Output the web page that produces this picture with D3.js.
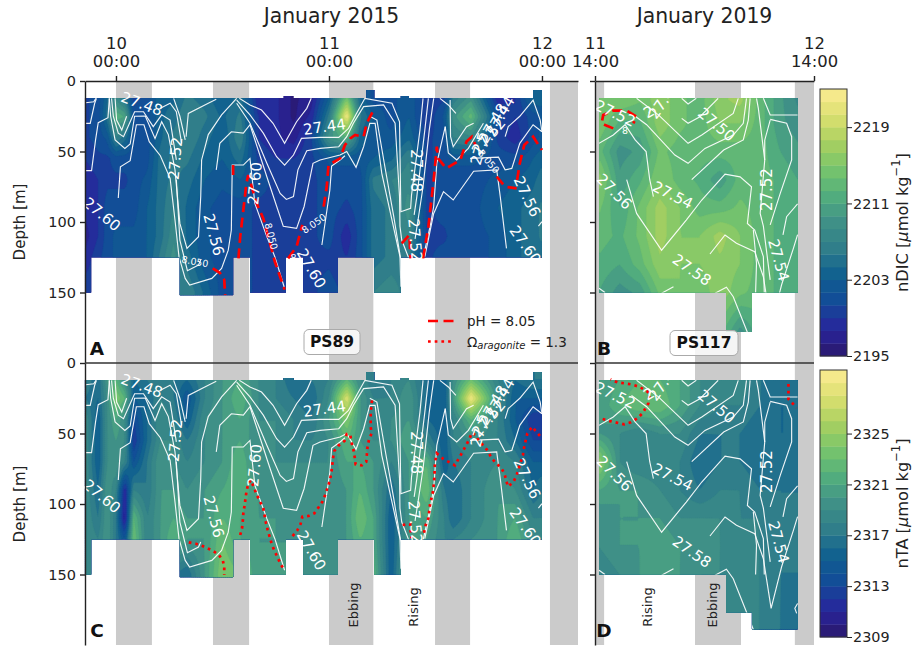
<!DOCTYPE html>
<html><head><meta charset="utf-8">
<script src="https://cdn.jsdelivr.net/npm/d3@7"></script>
<style>html,body{margin:0;padding:0;background:#fff}svg{display:block;font-family:"DejaVu Sans",sans-serif}</style>
</head><body><svg id="c" width="912" height="647"></svg>
<script>
// ---- data: hours since reference tick, depth in metres ----
const hoursLeft=[-3.5,-2,-1,0,1,2,3.5,5,6.5,8,10,12,14,16,18,20,22,24,26,27.5,29,31,33,35,37,38,40,43,45,47,48];
const depthsLeft=[12,25,40,55,70,90,110,125,150];
const nDIC2015=[
[2200,2201,2204,2208,2205,2200,2201,2204,2204,2206,2205,2203,2205,2198,2198,2196,2197,2203,2214,2204,2201,2201,2203,2199,2200,2206,2209,2198,2199,2204,2204],
[2200,2201,2205,2212,2211,2201,2201,2204,2205,2207,2206,2204,2206,2199,2198,2196,2198,2206,2222,2206,2203,2201,2203,2199,2202,2209,2213,2201,2199,2201,2202],
[2200,2201,2202,2207,2205,2201,2201,2204,2206,2207,2205,2203,2207,2199,2198,2197,2200,2209,2212,2204,2202,2202,2204,2200,2201,2207,2208,2200,2198,2201,2202],
[2199,2200,2200,2201,2201,2201,2201,2205,2206,2206,2204,2203,2205,2200,2199,2199,2200,2202,2202,2202,2203,2204,2207,2200,2201,2202,2202,2201,2201,2203,2204],
[2198,2199,2200,2200,2200,2201,2202,2205,2206,2205,2203,2202,2203,2201,2200,2200,2200,2201,2201,2201,2206,2207,2208,2200,2201,2201,2201,2202,2203,2204,2205],
[2198,2199,2201,2201,2201,2201,2203,2205,2207,2204,2202,2201,2201,2200,2200,2200,2200,2201,2200,2201,2205,2206,2209,2200,2201,2201,2201,2203,2204,2205,2206],
[2197,2199,2201,2202,2202,2202,2203,2205,2208,2204,2202,2201,2201,2200,2200,2200,2200,2201,2198,2201,2205,2206,2208,2200,2200,2201,2201,2202,2204,2205,2206],
[2198,2200,2201,2202,2202,2202,2203,2206,2209,2205,2202,2201,2201,2200,2200,2200,2200,2200,2199,2201,2205,2206,2206,2200,2201,2201,2201,2202,2204,2205,2205],
[2200,2200,2201,2202,2202,2202,2203,2204,2205,2207,2204,2201,2201,2200,2200,2200,2200,2201,2200,2202,2207,2208,2206,2201,2201,2201,2201,2202,2204,2205,2205]];
const nTA2015=[
[2318,2316,2320,2322,2319,2316,2317,2318,2317,2316,2318,2320,2321,2319,2318,2316,2317,2318,2322,2319,2317,2318,2319,2316,2315,2319,2323,2318,2316,2317,2317],
[2317,2316,2319,2324,2322,2315,2316,2318,2317,2314,2318,2320,2322,2319,2318,2317,2316,2319,2328,2320,2318,2318,2320,2316,2315,2320,2329,2319,2315,2315,2315],
[2319,2315,2319,2321,2319,2313,2316,2319,2318,2315,2319,2320,2321,2319,2319,2318,2317,2320,2324,2320,2318,2319,2320,2316,2315,2318,2322,2318,2315,2312,2312],
[2319,2315,2319,2320,2319,2312,2316,2319,2319,2317,2319,2320,2321,2319,2319,2318,2318,2319,2322,2320,2319,2319,2321,2318,2315,2318,2319,2318,2316,2313,2313],
[2319,2315,2319,2320,2318,2314,2317,2320,2319,2318,2319,2320,2322,2319,2319,2319,2319,2319,2321,2321,2320,2318,2320,2322,2315,2317,2318,2319,2318,2315,2315],
[2319,2316,2320,2318,2311,2318,2317,2320,2320,2319,2320,2321,2322,2320,2319,2319,2319,2319,2320,2322,2320,2316,2320,2323,2317,2316,2318,2320,2319,2316,2317],
[2319,2317,2320,2317,2310,2322,2318,2320,2321,2320,2320,2322,2321,2320,2320,2319,2319,2319,2320,2323,2321,2315,2320,2321,2318,2316,2318,2320,2321,2318,2318],
[2319,2318,2320,2317,2314,2323,2318,2320,2322,2320,2320,2323,2321,2320,2320,2320,2319,2319,2320,2322,2321,2315,2320,2320,2318,2318,2319,2320,2322,2319,2319],
[2319,2319,2319,2318,2317,2318,2318,2319,2317,2316,2320,2324,2323,2320,2320,2320,2319,2319,2319,2322,2322,2315,2322,2320,2319,2319,2319,2320,2321,2320,2319]];
const hoursRight=[.4,2.7,4.9,7.1,9.3,11.5,13.7,15.9,18.1,20.3,22.2];
const depthsRight=[12,30,50,70,90,110,130,150,178,190];
const nDIC2019=[
[2215,2215,2214,2216,2214,2213,2216,2217,2213,2210,2208],
[2215,2212,2212,2216,2214,2213,2215,2215,2213,2210,2209],
[2213,2209,2210,2214,2213,2213,2213,2213,2213,2211,2210],
[2216,2210,2212,2215,2213,2212,2210,2213,2213,2212,2211],
[2214,2211,2214,2217,2215,2213,2213,2214,2213,2212,2212],
[2213,2212,2214,2217,2215,2215,2217,2215,2213,2212,2212],
[2212,2211,2213,2216,2215,2215,2216,2215,2213,2212,2212],
[2211,2209,2210,2214,2215,2214,2216,2214,2213,2212,2211],
[2210,2209,2210,2213,2214,2214,2213,2209,2212,2212,2211],
[2210,2209,2210,2213,2214,2214,2213,2209,2212,2212,2211]];
const nTA2019=[
[2320,2321,2322,2322,2321,2319,2318,2319,2317,2317,2316],
[2320,2322,2323,2323,2321,2319,2318,2318,2317,2316,2316],
[2320,2319,2318,2319,2319,2317,2317,2317,2316,2316,2316],
[2325,2319,2318,2318,2318,2316,2317,2317,2316,2316,2317],
[2321,2320,2320,2319,2318,2317,2318,2318,2317,2317,2317],
[2319,2320,2320,2320,2319,2319,2319,2318,2318,2317,2317],
[2319,2320,2320,2321,2320,2320,2319,2318,2318,2317,2317],
[2318,2319,2320,2321,2320,2319,2319,2318,2318,2317,2317],
[2318,2319,2319,2320,2320,2319,2319,2318,2318,2317,2316],
[2318,2319,2319,2320,2320,2319,2319,2318,2318,2317,2316]];
// sampled extent: [start hour, end hour, top depth, bottom depth]
const extentLeft=[[-3.5,-2.8,12,150],[-2.8,7.2,12,125],[7.2,13.2,12,152],[13.2,15.1,12,125],[15.1,19.15,12,150],[18.9,20,10.6,12],[19.15,21.1,12,125],[21.1,25,12,150],[25,28.2,12,125],[28.2,29.1,6.4,125],[29.1,32.1,12,150],[32.1,33,10.6,125],[33,47,12,125],[47,48,6.4,125]];
const extentB=[[.44,22.25,12,150],[14.36,17.2,12,178]];
const extentD=[[.44,22.25,12,150],[14.36,17.2,12,177],[17.2,22.25,12,189]];
const tideLeft=[[0,4.05],[10.93,15],[24,29],[35.95,39.9],[48.9,52.06]];
const tideRight=[[0,1],[10.96,16],[21.9,24]];
// density contours [hour, depth]
const sigmaLeft=[
[[-3.4,15.4],[-2.5,14.7],[-2.26,12.3]],
[[-3.4,30],[-2.9,30],[-2.4,15.8],[-2.2,12.3]],
[[-3.4,63.6],[-2.75,63.6],[-2.3,41.8],[-2,29.6],[-.9,26],[-.75,12.3]],
[[.26,83],[.5,60.8],[1.6,56.5],[2.3,31],[3.15,31],[3.75,43],[5,53],[6.1,69],[6.65,98.6],[7.1,124.6],[7.8,140],[8.3,144.7],[10.8,140],[11.9,132.9],[12.65,120],[13,105.7],[13.1,59.6],[14.35,59.6],[15.1,54.9],[15.65,86.8],[17,110.4],[17.9,124.6],[19,147]],
[[-.75,12.3],[-.6,25],[-.1,41.8],[1,47.8],[1.6,44.7],[2.1,25],[3.3,24.8],[4.4,40.7],[5.15,28.9],[5.9,38],[6.65,63],[7.2,101],[8,118.7],[9.3,110.4],[9.55,82],[9.65,56],[10.4,38],[11.9,24],[13.6,12.3]],
[[6.8,70],[7.2,112.8],[8.05,134.5],[9.3,130.5],[9.55,127]],
[[-.5,12.3],[-.3,25],[.26,37],[.85,39.5],[1.6,28.9],[2.1,21.8],[3.1,21.8],[4.2,32.4],[5.15,24],[6.1,27.7],[6.8,56]],
[[-.1,12.3],[.07,27.7],[.65,34.8],[1.2,25]],
[[5,19.4],[6.1,15.8],[6.8,21.8],[7.4,44.2]],
[[6.5,12.3],[7.2,25],[7.8,41.8]],
[[7.9,39.5],[8.15,23],[10.4,15.8],[11.3,13]],
[[13.9,12.3],[15.1,17],[16.4,20.6],[17.7,30],[19,44.2],[20.35,28.9],[21.5,19.4],[22,12.3]],
[[13.6,13.5],[15.1,24],[16.6,37],[18.1,53.7],[19,59.6],[20,52.5],[20.9,40.7],[23,40],[25.1,40],[26.2,33.6],[27.1,23],[28.05,12.3],[31.1,15.8],[31.95,28.9],[32.1,92.7],[33.2,90.3],[33.3,81],[34.25,34.8],[34.6,12.3]],
[[13.6,15.8],[15.1,30],[17,58.4],[18.5,79.7],[19.2,84],[20,82],[20.5,63],[21.5,49.4],[23,47.8],[25.1,46.6],[26,39.5],[26.75,30],[27.9,18.2],[30.15,17],[31.45,30],[31.95,82],[32,103],[32.2,112.8],[33,125.8]],
[[11.3,63],[11.7,44.2],[13,36],[14.35,37],[15.1,31],[17,67.9],[18.85,103],[20.35,104.5],[21.2,89],[22.2,58.4],[23,56],[25.25,52.5],[26,50],[27.05,61.2],[27.9,46.6],[28.6,30],[29.2,30],[29.95,65.5],[31.1,98.6],[32,124.6],[32.1,145.9]],
[[23.2,116.3],[24.1,77.3],[24.3,60.3],[25.25,56],[25.8,53]],
[[28.6,25],[29.4,27.7],[30.3,60.8],[31.3,96.2],[32.1,127],[32.15,140]],
[[37.1,32.4],[36.15,58.4],[35.8,89],[35.4,103],[34.6,125.8]],
[[35.2,12.3],[34.8,34.8],[33.9,82],[33.6,95]],
[[35.8,12.3],[35.3,34.8],[34.6,75],[34,100],[33.7,112]],
[[36.5,12.3],[37.45,17],[38.3,23]],
[[37.65,13.5],[37.7,39.5],[38,46.6],[39.5,32.4],[40.3,30]],
[[37.1,32.4],[37.45,51],[38.4,56],[39.7,47.8],[41.4,30]],
[[39.9,54.9],[43.1,54],[43.85,63],[44.6,62],[45.5,44.2],[47,31],[48,36]],
[[43.85,39.5],[44.2,32.4],[45.5,25],[47,13.5],[47.8,27.7],[48,36]],
[[34.8,124.6],[35.8,93.9],[36.9,78.5],[38,84.4],[40.3,64],[42.9,63],[43.3,82],[44,118.7]],
[[48,99.8],[47.6,103]]];
const sigmaRight=[
[[.44,44.2],[2,38.3],[3.3,31],[4.4,41.8],[5.6,50],[6,70],[6.4,82]],
[[3.47,70],[4.56,93.9],[7.3,120],[10,98.6],[11.7,84.4],[14.25,66],[15.9,68],[17.15,75],[16.7,101],[17.5,105.7],[18.45,124.6],[18.55,150]],
[[4,23],[5.66,31],[8.75,52.5],[10.2,58.4],[12.05,47.8],[15.15,38.3],[16.25,30],[16.6,12.3]],
[[4.56,12.3],[6.95,24],[10.2,44.2],[11.7,38.3],[15.15,23],[15.7,12.3]],
[[9.5,26.5],[10.2,30],[11.5,25.3],[13.5,12.3]],
[[9.5,12.3],[10.2,16.3],[11.1,12.3]],
[[10.6,70],[14.1,49],[16.25,41.8],[16.8,27.7],[17,12.3]],
[[17.7,12.3],[17.9,19.4],[18.6,56],[18.1,93.9],[18.45,103],[19.2,141]],
[[18.45,12.3],[19.2,24.1],[22.2,24.1]],
[[19.2,27.7],[18.6,42],[18.6,56]],
[[19.2,27.2],[21,30],[21.55,39.5],[21.55,56],[20.3,79.7],[19.2,102]],
[[22.2,87.2],[21,96.2],[20.6,109.2]],
[[12.6,122.7],[14.25,109.2],[15.5,115.1],[17.5,121],[18.45,138.8],[19.3,174],[20.45,144.5],[21.75,118.5],[22.2,109]],
[[.44,147],[1.1,150]],
[[7.3,150.6],[8.6,146]],
[[13.15,150.6],[14.4,146.3],[15.15,153],[16.6,176.6],[17.35,189]],
[[17.35,105.7],[17.7,129.3],[17.6,150]],
[[22.2,170.5],[21.9,174],[22.1,177.6]]];
// [text, hour, depth, rotation]
const sigmaLabelsLeft=[["27.48",2.9,16.3,20],["27.52",6.7,54.9,-85],["27.60",-1.6,94.6,40],["27.56",11,109,75],["27.60",15.65,72.6,-85],["27.60",22,133,60],["27.44",23.5,32.6,-8],["27.48",33.8,63.6,90],["27.52",33.7,112.8,85],["27.56",46.3,82,65],["27.60",46.1,116.3,55],["27.44",43.3,25,-60],["27.48",42.5,30,-60],["27.52",42,39.5,-50],["27.5",41,48,-75]];
const sigmaLabelsRight=[["27.52",2.2,23,25],["27.4",7.3,16,-55],["2",5.9,22,-30],["27.50",13.3,31,40],["27.56",2.1,78.5,45],["27.54",8.5,81,27],["27.52",18.8,77,-90],["27.58",10.6,134,35],["27.54",20.1,127,75]];
const phLabelsLeft=[["8.050",8.9,128,10],["8.050",17.5,110,75],["8.050",22.3,101,-35],["8",20,125,0],["8.050",42,57,50]];
const phLabelsRight=[["8",3.3,35,0]];
const pHLeft=[
[[10.9,132.9],[11.7,136],[12.2,141],[12.3,151.8]],
[[13.8,125.8],[14,110.4],[14.35,91.5],[14.7,72.6],[14.9,66.7],[15.85,86.8],[16.6,97.4],[17.9,128],[19,148]],
[[13.2,66.7],[13.2,58.4]],
[[19.4,125.8],[20.35,117.5],[21,102.1]],
[[23.4,89.1],[23.75,75],[23.95,59.6],[25.25,54.9],[25.8,45.4],[26.4,40.7],[26.95,38.3],[27.9,39.5],[28.25,30],[28.9,22.2]],
[[32.2,115.1],[33.05,109.2],[33.2,125.8]],
[[34.6,125.8],[35.2,103.3],[35.8,70.2],[36.15,46.6],[36.3,54.9],[37.2,62],[38.8,56],[39.5,43],[40.1,39.5],[40.5,45.4]],
[[42.9,67.9],[43.85,75],[45.15,76.1]],
[[45.2,70.2],[45.5,58.4],[46,45.4],[47,39.5],[48,49]]];
const pHRight=[[[2,33.6],[1.1,31.2],[.73,30],[.9,24.1],[2,21],[3.47,21],[4.56,25.3],[4.2,30]]];
const omegaLeft=[
[[8.2,127.2],[9,128.2],[9.75,129.8],[10.9,133.1],[11.6,136.2],[12.05,140.2],[12.2,145],[12.2,150.4]],
[[14,122],[14.2,117.3],[14.3,111.4],[14.35,106.6],[14.5,100.7],[14.7,91.3],[14.9,85.8],[15.2,83],[15.5,87.7],[15.8,92.5],[16.15,97.2],[16.6,103.1],[16.9,113.3],[17.1,118.5],[17.55,128.4],[17.85,133.1],[18.2,137.8],[18.55,142.6],[19,147.1]],
[[19.9,122.7],[20.4,119],[20.8,114.2],[21,109],[21.7,108.5],[22.35,106.6],[22.85,102.2],[23.25,98.4],[23.6,93.2],[23.85,88.2],[24.1,83.5],[24.25,78.3],[24.35,73.5],[24.45,67.9],[24.6,62.4],[25.1,58.4],[25.75,55.3],[26,50.4],[26.4,51.1],[26.55,56.5],[26.75,61.3],[26.9,66.9],[27,71.9],[27.7,72.6],[28.2,70],[28.35,59.4],[28.5,54.6],[28.8,49.9],[28.7,45.2],[28.7,39.3],[28.7,34.5],[28.9,24.4]],
[[32.3,114.9],[33.15,114.2],[33.2,119.2],[33.3,124.4]],
[[34.7,120.4],[34.9,114.9],[35.2,110.2],[35.4,99.6],[35.6,94.8],[35.75,90.1],[35.9,79.5],[35.9,74],[36,68.8],[36.15,64.1],[36.9,68.1],[37.65,70.7],[38.2,72.6],[38.6,67.9],[39,63.6],[39.4,58.9],[39.8,54.2],[40.1,49.4],[40.5,51.1],[40.95,55.8],[41.4,58.4],[41.9,62.4],[42.3,67.2],[42.85,71.2],[43.45,74.7],[43.8,79],[44,84.2],[44.2,87.7],[44.8,84.2],[45.15,79.5],[45.4,74.3],[45.85,65.3],[46,59.4],[46.35,49.9],[46.9,45.2],[47.35,48.7],[47.9,52.7]]];
const omegaRight=[
[[.84,39.7],[1.64,41.2],[2.37,42.3],[3.2,43.5],[3.9,42.1],[4.64,39.3],[5.2,35.7],[5.85,28.6],[6,21.5],[5.5,19.2],[4.8,16.8],[4,15.2],[3.2,14.4],[2.45,13.7],[1.7,11.6]],
[[21.2,14.9],[21.2,20.4],[21.2,25.6],[22.1,31.7]]];
const depthTicks=[0,50,100,150];
const dicRange=[2195,2223], taRange=[2309,2330];
const dicTicks=[2195,2203,2211,2219], taTicks=[2309,2313,2317,2321,2325];
const levels=21;
const halineStops=["#2a186c","#28259c","#134b98","#0f5f90","#2f7d8a","#3f9087","#52ad7e","#76c46c","#a8d060","#dce070","#fdec94"];

// ---- layout ----
const svg=d3.select("#c");
const haline=d3.scaleLinear().domain(halineStops.map((_,i)=>i/10)).range(halineStops).interpolate(d3.interpolateRgb);
const xL=d3.scaleLinear().domain([-3.49,52.06]).range([85,578]);
const xR=d3.scaleLinear().domain([0,24]).range([595,814]);
const yT=d3.scaleLinear().domain([0,200]).range([81,363]);
const yB=d3.scaleLinear().domain([0,200]).range([363,645]);
let uid=0;

function bilinear(hs,ds,grid,h,d){
  const f=(arr,v)=>{const i=Math.max(0,Math.min(arr.length-2,d3.bisectRight(arr,v)-1));
    return [i,Math.max(0,Math.min(1,(v-arr[i])/(arr[i+1]-arr[i])))];};
  const [i,u]=f(hs,h),[j,v]=f(ds,d);
  return (1-v)*((1-u)*grid[j][i]+u*grid[j][i+1])+v*((1-u)*grid[j+1][i]+u*grid[j+1][i+1]);
}
function panel(o){
  const g=svg.append("g"),x=o.x,y=o.y;
  g.selectAll(null).data(o.tide).join("rect").attr("x",d=>x(d[0])).attr("width",d=>x(d[1])-x(d[0]))
    .attr("y",y(0)).attr("height",y(200)-y(0)).attr("fill","#cbcbcb");
  const id="clip"+(uid++);
  g.append("clipPath").attr("id",id).selectAll("rect").data(o.extent).join("rect")
    .attr("x",d=>x(d[0])).attr("width",d=>x(d[1])-x(d[0])).attr("y",d=>y(d[2])).attr("height",d=>y(d[3])-y(d[2]));
  const h0=d3.min(o.extent,d=>d[0]),h1=d3.max(o.extent,d=>d[1]);
  const d0=d3.min(o.extent,d=>d[2]),d1=d3.max(o.extent,d=>d[3]);
  const px0=x(h0),px1=x(h1),py0=y(d0),py1=y(d1);
  const nx=Math.ceil((px1-px0)/2),ny=Math.ceil((py1-py0)/2);
  const vals=new Float64Array(nx*ny);
  for(let j=0;j<ny;j++)for(let i=0;i<nx;i++){
    vals[j*nx+i]=bilinear(o.hours,o.depths,o.grid,x.invert(px0+(i+.5)/nx*(px1-px0)),y.invert(py0+(j+.5)/ny*(py1-py0)));
  }
  const step=(o.range[1]-o.range[0])/levels;
  const th=d3.range(levels).map(i=>o.range[0]+i*step);
  const cs=d3.contours().size([nx,ny]).thresholds(th).smooth(true)(vals);
  const geo=d3.geoPath(d3.geoTransform({point(a,b){this.stream.point(px0+a/nx*(px1-px0),py0+b/ny*(py1-py0));}}));
  const fg=g.append("g").attr("clip-path",`url(#${id})`);
  fg.append("rect").attr("x",px0).attr("y",py0).attr("width",px1-px0).attr("height",py1-py0).attr("fill",haline(.5/levels));
  fg.selectAll("path").data(cs).join("path").attr("d",geo).attr("fill",(d,i)=>haline((i+.5)/levels)).attr("stroke",(d,i)=>haline((i+.5)/levels)).attr("stroke-width",.3);
  const line=d3.line().x(d=>x(d[0])).y(d=>y(d[1]));
  fg.selectAll(null).data(o.sigma).join("path").attr("d",line).attr("fill","none").attr("stroke","#fff").attr("stroke-width",1.15).attr("stroke-opacity",.92);
  g.selectAll(null).data(o.red).join("path").attr("d",line).attr("fill","none").attr("stroke","#f00").attr("stroke-width",2.7)
    .attr("stroke-dasharray",o.redDash);
  const lab=(arr,size)=>g.selectAll(null).data(arr).join("text").text(d=>d[0])
    .attr("transform",d=>`translate(${x(d[1])},${y(d[2])}) rotate(${d[3]})`)
    .attr("text-anchor","middle").attr("dominant-baseline","central").attr("fill","#fff").attr("font-size",size);
  lab(o.sigmaLabels,15);
  if(o.phLabels) lab(o.phLabels,9.5);
}
panel({x:xL,y:yT,tide:tideLeft,extent:extentLeft,hours:hoursLeft,depths:depthsLeft,grid:nDIC2015,range:dicRange,sigma:sigmaLeft,sigmaLabels:sigmaLabelsLeft,phLabels:phLabelsLeft,red:pHLeft,redDash:"10,5.5"});
panel({x:xR,y:yT,tide:tideRight,extent:extentB,hours:hoursRight,depths:depthsRight,grid:nDIC2019,range:dicRange,sigma:sigmaRight,sigmaLabels:sigmaLabelsRight,phLabels:phLabelsRight,red:pHRight,redDash:"10,5.5"});
panel({x:xL,y:yB,tide:tideLeft,extent:extentLeft,hours:hoursLeft,depths:depthsLeft,grid:nTA2015,range:taRange,sigma:sigmaLeft,sigmaLabels:sigmaLabelsLeft,red:omegaLeft,redDash:"2.7,4"});
panel({x:xR,y:yB,tide:tideRight,extent:extentD,hours:hoursRight,depths:depthsRight,grid:nTA2019,range:taRange,sigma:sigmaRight,sigmaLabels:sigmaLabelsRight,red:omegaRight,redDash:"2.7,4"});

// ---- axes ----
const ink="#222";
function topAxis(scale,ticks,lines){
  const a=svg.append("g").attr("transform",`translate(0,${yT(0)})`)
    .call(d3.axisTop(scale).tickValues(ticks).tickSize(5).tickSizeOuter(0));
  a.select(".domain").attr("stroke","#222").attr("stroke-width",1.4);
  a.selectAll(".tick line").attr("stroke","#222").attr("stroke-width",1.4);
  a.selectAll(".tick text").each(function(d,i){
    const t=d3.select(this).text(null).attr("font-size",16.4).attr("fill",ink).attr("font-family","DejaVu Sans");
    t.attr("y",0).attr("dy",null);
    t.append("tspan").attr("x",0).attr("y",-32).text(lines[i][0]);
    t.append("tspan").attr("x",0).attr("y",-14).text(lines[i][1]);
  });
}
topAxis(xL,[0,24,48],[["10","00:00"],["11","00:00"],["12","00:00"]]);
topAxis(xR,[0,24],[["11","14:00"],["12","14:00"]]);
[[yT,85,true],[yB,85,true],[yT,595,false],[yB,595,false]].forEach(([y,px,lab])=>{
  const a=svg.append("g").attr("transform",`translate(${px},0)`)
    .call(d3.axisLeft(y).tickValues(depthTicks).tickSize(5).tickSizeOuter(0));
  a.select(".domain").attr("stroke","#222").attr("stroke-width",1.4);
  a.selectAll(".tick line").attr("stroke","#222").attr("stroke-width",1.4);
  a.selectAll(".tick text").attr("font-size",14.5).attr("fill",ink).attr("font-family","DejaVu Sans").attr("x",-9);
  if(!lab) a.selectAll(".tick text").remove();
});
[[85,578],[595,814]].forEach(([a,b])=>svg.append("line").attr("x1",a).attr("x2",b).attr("y1",yT(200)).attr("y2",yT(200)).attr("stroke","#333").attr("stroke-width",1.4));

function txt(s,x,y,size,opt={}){
  const t=svg.append("text").text(s).attr("x",x).attr("y",y).attr("font-size",size).attr("fill",opt.fill||ink)
    .attr("text-anchor",opt.anchor||"middle").attr("dominant-baseline","central");
  if(opt.bold)t.attr("font-weight","bold");
  if(opt.rot)t.attr("transform",`rotate(${opt.rot},${x},${y})`);
  return t;
}
txt("January 2015",331.5,16,20.4);
txt("January 2019",704.5,16,20.4);
txt("Depth [m]",20,222,15,{rot:-90});
txt("Depth [m]",20,504,15,{rot:-90});
[["A",97,348],["B",604,348],["C",97,630],["D",604,630]].forEach(d=>txt(d[0],d[1],d[2],18.5,{bold:true,fill:"#111"}));
txt("Ebbing",353,605,13,{rot:-90});
txt("Rising",413,607,13,{rot:-90});
txt("Rising",647,607,13,{rot:-90});
txt("Ebbing",712,605,13,{rot:-90});
[["PS89",332,342,56],["PS117",704,343,68]].forEach(([s,x,y,w])=>{
  svg.append("rect").attr("x",x-w/2).attr("y",y-12.5).attr("width",w).attr("height",25).attr("rx",5)
    .attr("fill","#fff").attr("fill-opacity",.8).attr("stroke","#aaa");
  txt(s,x,y,15.5,{bold:true,fill:"#111"});
});
const legend=[{dash:"10,5.5",y:321},{dash:"2.7,4",y:341.5}];
svg.selectAll(null).data(legend).join("line").attr("x1",428).attr("x2",454).attr("y1",d=>d.y).attr("y2",d=>d.y)
  .attr("stroke","#f00").attr("stroke-width",2.7).attr("stroke-dasharray",d=>d.dash);
txt("pH = 8.05",467,320.5,13.5,{anchor:"start"});
const om=txt("",467,341.5,13.5,{anchor:"start"});
om.append("tspan").text("Ω");
om.append("tspan").text("aragonite").attr("font-size",10).attr("font-style","italic").attr("dy",3);
om.append("tspan").text(" = 1.3").attr("dy",-3);

// ---- colour bars ----
function colorbar(top,bottom,range,ticks,label){
  const s=d3.scaleLinear().domain(range).range([bottom,top]);
  const stepV=(range[1]-range[0])/levels;
  svg.selectAll(null).data(d3.range(levels)).join("rect").attr("x",820).attr("width",27)
    .attr("y",i=>s(range[0]+(i+1)*stepV)).attr("height",i=>s(range[0]+i*stepV)-s(range[0]+(i+1)*stepV)+.4)
    .attr("fill",i=>haline((i+.5)/levels));
  svg.append("rect").attr("x",820).attr("y",top).attr("width",27).attr("height",bottom-top).attr("fill","none").attr("stroke","#333").attr("stroke-width",1);
  const a=svg.append("g").attr("transform","translate(847,0)").call(d3.axisRight(s).tickValues(ticks).tickSize(5).tickFormat(d3.format("d")));
  a.select(".domain").remove();
  a.selectAll(".tick line").attr("stroke","#222");
  a.selectAll(".tick text").attr("font-size",14.4).attr("fill",ink).attr("font-family","DejaVu Sans").attr("x",6);
  const cy=(top+bottom)/2, t=txt("",902,cy,16.2,{rot:-90});
  t.append("tspan").text(label+" [");
  t.append("tspan").text("μ").attr("font-style","italic");
  t.append("tspan").text("mol kg");
  t.append("tspan").text("−1").attr("font-size",11.5).attr("dy",-6);
  t.append("tspan").text("]").attr("dy",6);
}
colorbar(89,356,dicRange,dicTicks,"nDIC");
colorbar(370,637,taRange,taTicks,"nTA");
</script></body></html>
